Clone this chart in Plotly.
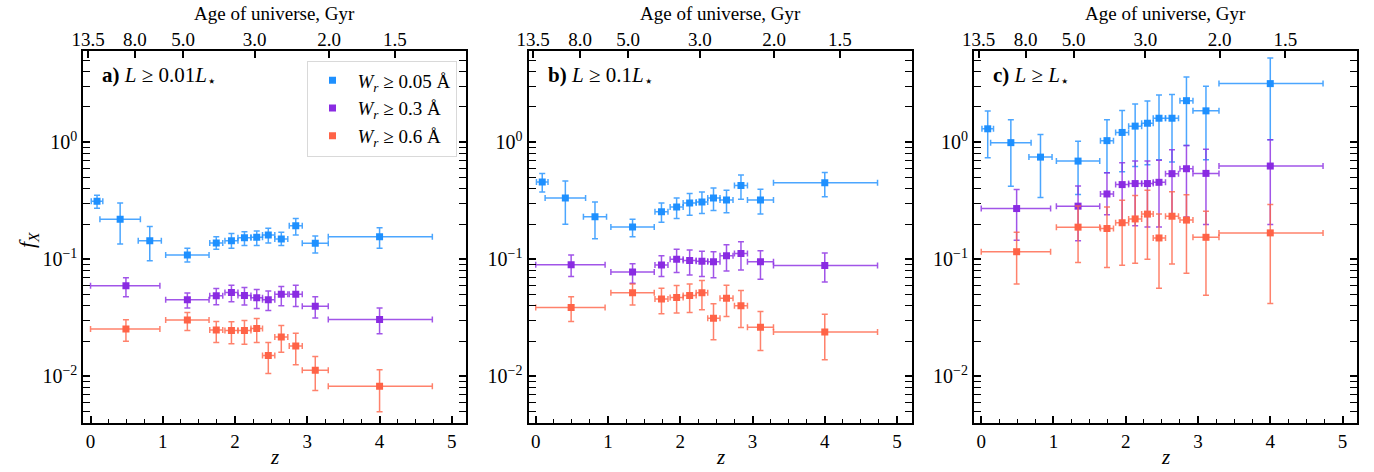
import plotly.graph_objects as go
import math

# ---------------- data ----------------
# redshift bins (blue series: W_r >= 0.05 A)
z_blue = [0.09, 0.41, 0.82, 1.34, 1.74, 1.95, 2.13, 2.30, 2.46, 2.64, 2.84, 3.11, 4.0]
z_blue_lo = [0.01, 0.13, 0.66, 1.04, 1.65, 1.86, 2.04, 2.22, 2.38, 2.55, 2.75, 2.93, 3.29]
z_blue_hi = [0.17, 0.69, 0.98, 1.64, 1.83, 2.04, 2.22, 2.38, 2.55, 2.73, 2.93, 3.29, 4.73]
# redshift bins (purple / red series)
z_strong = [0.49, 1.34, 1.74, 1.95, 2.13, 2.30, 2.46, 2.64, 2.84, 3.11, 4.0]
z_strong_lo = [0.0, 1.04, 1.65, 1.86, 2.04, 2.22, 2.38, 2.55, 2.75, 2.93, 3.29]
z_strong_hi = [0.96, 1.64, 1.83, 2.04, 2.22, 2.38, 2.55, 2.73, 2.93, 3.29, 4.73]

# panel a) L >= 0.01 L*
a_blue = [0.313, 0.22, 0.144, 0.109, 0.138, 0.144, 0.153, 0.154, 0.161, 0.149, 0.193, 0.137, 0.156]
a_blue_lo = [0.272, 0.135, 0.097, 0.095, 0.122, 0.124, 0.131, 0.131, 0.138, 0.131, 0.161, 0.113, 0.124]
a_blue_hi = [0.352, 0.303, 0.19, 0.124, 0.156, 0.166, 0.172, 0.174, 0.184, 0.170, 0.223, 0.158, 0.186]
a_purple = [0.0593, 0.0451, 0.0488, 0.052, 0.049, 0.0469, 0.0451, 0.0503, 0.0503, 0.0398, 0.0306]
a_purple_lo = [0.0478, 0.0383, 0.0408, 0.0434, 0.0406, 0.038, 0.0366, 0.0401, 0.0395, 0.0315, 0.0231]
a_purple_hi = [0.0697, 0.0514, 0.0562, 0.0601, 0.0573, 0.0551, 0.0537, 0.0585, 0.0601, 0.0478, 0.0383]
a_red = [0.0254, 0.0303, 0.0249, 0.0247, 0.0247, 0.0257, 0.0151, 0.0217, 0.0182, 0.0113, 0.00824]
a_red_lo = [0.02, 0.0247, 0.0195, 0.019, 0.0188, 0.0195, 0.0106, 0.0161, 0.0126, 0.00757, 0.00499]
a_red_hi = [0.0304, 0.0351, 0.0294, 0.0293, 0.030, 0.0312, 0.0195, 0.0272, 0.0234, 0.0148, 0.0114]

# panel b) L >= 0.1 L*
b_blue = [0.457, 0.334, 0.231, 0.189, 0.254, 0.28, 0.303, 0.309, 0.334, 0.32, 0.427, 0.32, 0.449]
b_blue_lo = [0.376, 0.199, 0.150, 0.156, 0.207, 0.223, 0.238, 0.246, 0.261, 0.249, 0.325, 0.243, 0.341]
b_blue_hi = [0.54, 0.466, 0.309, 0.220, 0.303, 0.334, 0.364, 0.376, 0.406, 0.388, 0.525, 0.396, 0.55]
b_purple = [0.090, 0.078, 0.0894, 0.1, 0.0974, 0.096, 0.0953, 0.107, 0.112, 0.0953, 0.0883]
b_purple_lo = [0.0711, 0.0625, 0.0711, 0.077, 0.0735, 0.0711, 0.0697, 0.0795, 0.0811, 0.0676, 0.0641]
b_purple_hi = [0.109, 0.0917, 0.107, 0.122, 0.120, 0.117, 0.116, 0.133, 0.141, 0.118, 0.113]
b_red = [0.0388, 0.0517, 0.0457, 0.0471, 0.049, 0.0517, 0.0313, 0.0465, 0.0401, 0.0263, 0.0239]
b_red_lo = [0.0294, 0.0406, 0.0342, 0.0347, 0.0352, 0.0371, 0.0206, 0.0324, 0.0262, 0.0166, 0.0139]
b_red_hi = [0.0478, 0.0616, 0.0566, 0.0596, 0.0616, 0.0658, 0.0417, 0.0601, 0.054, 0.0358, 0.034]

# panel c) L >= L*
c_blue = [1.30, 0.99, 0.745, 0.689, 1.03, 1.21, 1.37, 1.45, 1.60, 1.60, 2.26, 1.85, 3.16]
c_blue_lo = [0.736, 0.42, 0.336, 0.357, 0.549, 0.56, 0.621, 0.642, 0.708, 0.676, 0.937, 0.708, 1.05]
c_blue_hi = [1.84, 1.55, 1.16, 1.02, 1.55, 1.86, 2.12, 2.25, 2.53, 2.55, 3.6, 3.0, 5.23]
c_purple = [0.271, 0.284, 0.361, 0.434, 0.443, 0.443, 0.454, 0.538, 0.593, 0.541, 0.625]
c_purple_lo = [0.145, 0.144, 0.24, 0.2, 0.193, 0.189, 0.189, 0.23, 0.23, 0.198, 0.198]
c_purple_hi = [0.394, 0.422, 0.549, 0.668, 0.689, 0.69, 0.70, 0.861, 0.937, 0.871, 1.05]
c_red = [0.116, 0.188, 0.183, 0.205, 0.221, 0.243, 0.152, 0.233, 0.216, 0.154, 0.168]
c_red_lo = [0.0616, 0.094, 0.085, 0.089, 0.0925, 0.1, 0.0565, 0.091, 0.076, 0.0494, 0.042]
c_red_hi = [0.17, 0.285, 0.28, 0.319, 0.35, 0.388, 0.244, 0.378, 0.356, 0.257, 0.293]

# top axis: age of universe
age_labels = ["13.5", "8.0", "5.0", "3.0", "2.0", "1.5"]
age_z = [-0.035, 0.615, 1.28, 2.27, 3.30, 4.21]

panel_labels = ["<b>a)</b> <i>L</i> ≥ 0.01<i>L</i><sub>⋆</sub>",
                "<b>b)</b> <i>L</i> ≥ 0.1<i>L</i><sub>⋆</sub>",
                "<b>c)</b> <i>L</i> ≥ <i>L</i><sub>⋆</sub>"]
series_names = ["<i>W</i><sub><i>r</i></sub> ≥ 0.05 Å",
                "<i>W</i><sub><i>r</i></sub> ≥ 0.3 Å",
                "<i>W</i><sub><i>r</i></sub> ≥ 0.6 Å"]
colors = ["rgb(30,144,255)", "rgb(138,43,226)", "rgb(255,99,71)"]
err_colors = ["rgba(30,144,255,0.8)", "rgba(138,43,226,0.8)", "rgba(255,99,71,0.8)"]

panels = [
    [(a_blue, a_blue_lo, a_blue_hi), (a_purple, a_purple_lo, a_purple_hi), (a_red, a_red_lo, a_red_hi)],
    [(b_blue, b_blue_lo, b_blue_hi), (b_purple, b_purple_lo, b_purple_hi), (b_red, b_red_lo, b_red_hi)],
    [(c_blue, c_blue_lo, c_blue_hi), (c_purple, c_purple_lo, c_purple_hi), (c_red, c_red_lo, c_red_hi)],
]
zbins = [(z_blue, z_blue_lo, z_blue_hi), (z_strong, z_strong_lo, z_strong_hi), (z_strong, z_strong_lo, z_strong_hi)]

# ---------------- layout geometry ----------------
W, H = 1374, 472
x_domains = [(83.3, 466.3), (528.5, 911.5), (974.0, 1357.0)]
y_top, y_bot = 51.0, 423.0
ydom = [1 - y_bot / H, 1 - y_top / H]
FONT = "Liberation Serif, Times New Roman, serif"

fig = go.Figure()

for p in range(3):
    xa = "x" if p == 0 else f"x{p+1}"
    ya = "y" if p == 0 else f"y{p+1}"
    for s in range(3):
        f, lo, hi = panels[p][s]
        z, zlo, zhi = zbins[s]
        fig.add_trace(go.Scatter(
            x=z, y=f, mode="markers",
            name=series_names[s],
            legendgroup=f"g{s}",
            showlegend=(p == 0),
            marker=dict(symbol="square", size=7, color=colors[s]),
            error_y=dict(type="data", symmetric=False,
                         array=[h - v for h, v in zip(hi, f)],
                         arrayminus=[v - l for v, l in zip(f, lo)],
                         color=err_colors[s], thickness=1.5, width=3),
            error_x=dict(type="data", symmetric=False,
                         array=[h - v for h, v in zip(zhi, z)],
                         arrayminus=[v - l for v, l in zip(z, zlo)],
                         color=err_colors[s], thickness=1.5, width=3),
            xaxis=xa, yaxis=ya,
        ))
    # empty trace so that the top (age) axis of this panel is drawn
    fig.add_trace(go.Scatter(x=[None], y=[None], mode="markers", showlegend=False,
                             hoverinfo="skip", xaxis=f"x{p+4}", yaxis=ya))

major_y = [0.01, 0.1, 1]
major_y_text = ["10<sup>−2</sup>", "10<sup>−1</sup>", "10<sup>0</sup>"]
minor_y = [m * 10 ** e for e in range(-3, 1) for m in range(2, 10)]

layout = dict(
    width=W, height=H,
    margin=dict(l=0, r=0, t=0, b=0, autoexpand=False),
    paper_bgcolor="white", plot_bgcolor="white",
    font=dict(family=FONT, size=19, color="black"),
    showlegend=True,
    legend=dict(x=456.5 / W, y=1 - 60.5 / H, xanchor="right", yanchor="top",
                bgcolor="rgba(255,255,255,0.8)", bordercolor="#d9d9d9", borderwidth=1,
                font=dict(family=FONT, size=19), traceorder="grouped",
                tracegroupgap=0, itemwidth=40),
)

annotations = []
for p in range(3):
    sfx = "" if p == 0 else str(p + 1)
    top_sfx = str(p + 4)
    d0, d1 = x_domains[p]
    dom = [d0 / W, d1 / W]
    layout[f"xaxis{sfx}"] = dict(
        domain=dom, anchor=f"y{sfx}", range=[-0.1, 5.2],
        showline=True, linewidth=2, linecolor="black", mirror=True,
        ticks="inside", ticklen=7, tickwidth=1.5, tickcolor="black",
        tickvals=[0, 1, 2, 3, 4, 5], showgrid=False, zeroline=False,
        minor=dict(ticks="inside", ticklen=4, tickwidth=1.2, dtick=0.25, tick0=0, showgrid=False),
        tickfont=dict(family=FONT, size=19), automargin=False,
    )
    layout[f"xaxis{top_sfx}"] = dict(
        overlaying="x" + sfx, domain=dom, anchor=f"y{sfx}", side="top", range=[-0.1, 5.2],
        tickvals=age_z, ticktext=age_labels,
        ticks="inside", ticklen=7, tickwidth=1.5, tickcolor="black",
        showline=False, showgrid=False, zeroline=False,
        tickfont=dict(family=FONT, size=19), automargin=False,
    )
    layout[f"yaxis{sfx}"] = dict(
        domain=ydom, anchor=f"x{sfx}", type="log",
        range=[math.log10(4e-3), math.log10(6)],
        showline=True, linewidth=2, linecolor="black", mirror="allticks",
        ticks="inside", ticklen=7, tickwidth=1.5, tickcolor="black",
        tickvals=major_y, ticktext=major_y_text, showgrid=False, zeroline=False,
        minor=dict(ticks="inside", ticklen=4, tickwidth=1.2, tickvals=minor_y, showgrid=False),
        tickfont=dict(family=FONT, size=20), automargin=False,
    )
    cx = (d0 + d1) / 2 / W
    annotations.append(dict(text="<i>z</i>", x=cx, y=1 - 457 / H, xref="paper", yref="paper",
                            xanchor="center", yanchor="middle",
                            showarrow=False, font=dict(family=FONT, size=21)))
    annotations.append(dict(text="Age of universe, Gyr", x=cx, y=1 - 13 / H, xref="paper", yref="paper",
                            xanchor="center", yanchor="middle",
                            showarrow=False, font=dict(family=FONT, size=19)))
    annotations.append(dict(text=panel_labels[p], x=(d0 + 17) / W, y=1 - 76 / H, xref="paper", yref="paper",
                            xanchor="left", yanchor="middle", showarrow=False,
                            font=dict(family=FONT, size=21)))

annotations.append(dict(text="<i>f</i><sub><i>X</i></sub>", x=28 / W, y=1 - 240 / H, xref="paper", yref="paper",
                        xanchor="center", yanchor="middle",
                        showarrow=False, textangle=-90, font=dict(family=FONT, size=22)))
layout["annotations"] = annotations

fig.update_layout(**layout)
fig.write_html("out.html")
